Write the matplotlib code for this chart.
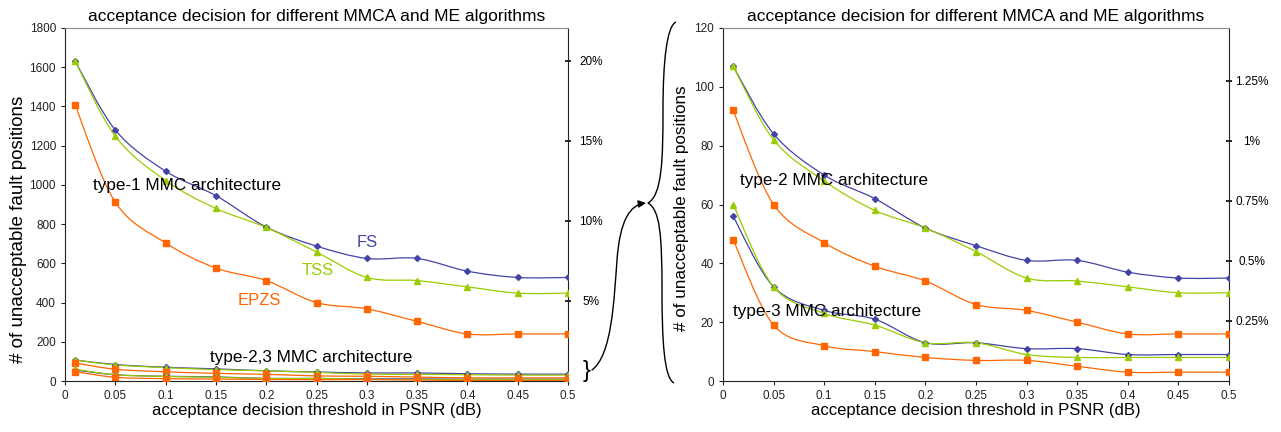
import numpy as np
import matplotlib
matplotlib.use("Agg")
import matplotlib.pyplot as plt
from matplotlib.path import Path
from matplotlib.patches import PathPatch, FancyArrowPatch

plt.rcParams['font.family'] = ['Liberation Sans', 'DejaVu Sans']

# thresholds (dB)
thresholds = [0.01, 0.05, 0.1, 0.15, 0.2, 0.25, 0.3, 0.35, 0.4, 0.45, 0.5]
x_ticks = [0, 0.05, 0.1, 0.15, 0.2, 0.25, 0.3, 0.35, 0.4, 0.45, 0.5]
x_tick_labels = ['0', '0.05', '0.1', '0.15', '0.2', '0.25', '0.3', '0.35', '0.4', '0.45', '0.5']

# type-1 MMC architecture
t1_fs = [1632, 1280, 1070, 945, 785, 688, 625, 625, 560, 528, 528]
t1_tss = [1632, 1248, 1022, 880, 783, 658, 528, 512, 480, 448, 448]
t1_epzs = [1408, 912, 704, 576, 512, 400, 368, 304, 240, 240, 240]

# type-2 MMC architecture
t2_fs = [107, 84, 70, 62, 52, 46, 41, 41, 37, 35, 35]
t2_tss = [107, 82, 68, 58, 52, 44, 35, 34, 32, 30, 30]
t2_epzs = [92, 60, 47, 39, 34, 26, 24, 20, 16, 16, 16]

# type-3 MMC architecture
t3_fs = [56, 32, 24, 21, 13, 13, 11, 11, 9, 9, 9]
t3_tss = [60, 32, 23, 19, 13, 13, 9, 8, 8, 8, 8]
t3_epzs = [48, 19, 12, 10, 8, 7, 7, 5, 3, 3, 3]

total_positions = 8160
left_pct_ticks = [5, 10, 15, 20]
right_pct_ticks = [0.25, 0.5, 0.75, 1.0, 1.25]
right_pct_labels = ['0.25%', '0.5%', '0.75%', '1%', '1.25%']

FS_C = '#4343a6'
TSS_C = '#99cc00'
EPZS_C = '#ff6600'
title = 'acceptance decision for different MMCA and ME algorithms'


def smooth_path(xs, ys):
    # excel style smoothed line through the points
    pts = np.column_stack([xs, ys]).astype(float)
    n = len(pts)
    verts = [pts[0]]
    codes = [Path.MOVETO]
    for i in range(n - 1):
        p0 = pts[i - 1] if i > 0 else pts[i]
        p1 = pts[i]
        p2 = pts[i + 1]
        p3 = pts[i + 2] if i + 2 < n else pts[i + 1]
        verts += [p1 + (p2 - p0) / 6, p2 - (p3 - p1) / 6, p2]
        codes += [Path.CURVE4] * 3
    return Path(verts, codes)


def draw_series(ax, ys, color, marker, ms):
    ax.add_patch(PathPatch(smooth_path(thresholds, ys), facecolor='none',
                           edgecolor=color, lw=0.9, zorder=2))
    ax.plot(thresholds, ys, linestyle='none', marker=marker, ms=ms,
            color=color, mec=color, zorder=3)


def style_axes(ax, ymax, ystep, pct_ticks, pct_labels, ylabel_size, ylabel_x, ylabel_y):
    ax.set_xlim(0, 0.5)
    ax.set_ylim(0, ymax)
    ax.set_xticks(x_ticks)
    ax.set_xticklabels(x_tick_labels)
    ax.set_yticks(np.arange(0, ymax + 1, ystep))
    ax.tick_params(labelsize=8.5, length=3, width=0.8, colors='#222222')
    ax.spines['top'].set_color('#8c8c8c')
    ax.spines['right'].set_visible(False)
    ax.spines['left'].set_color('#222222')
    ax.spines['bottom'].set_color('#222222')
    ax.set_title(title, fontsize=12.5, pad=5)
    ax.set_xlabel('acceptance decision threshold in PSNR (dB)', fontsize=12, labelpad=1)
    ax.set_ylabel('# of unacceptable fault positions', fontsize=ylabel_size)
    ax.yaxis.set_label_coords(ylabel_x, ylabel_y)
    sec = ax.secondary_yaxis('right', functions=(lambda v: v / total_positions * 100,
                                                 lambda p: p * total_positions / 100))
    sec.set_yticks(pct_ticks)
    sec.set_yticklabels(pct_labels)
    sec.spines['right'].set_color('#222222')
    sec.tick_params(direction='inout', length=5, width=1.2, labelsize=8.5, pad=14)
    for lab in sec.get_yticklabels():
        lab.set_ha('center')
    return sec


fig = plt.figure(figsize=(12.81, 4.32), dpi=100)
ax1 = fig.add_axes([65 / 1281, 51 / 432, 503 / 1281, 353 / 432])
ax2 = fig.add_axes([723 / 1281, 51 / 432, 506 / 1281, 353 / 432])

for ax, series in [(ax1, [t1_fs, t1_tss, t1_epzs, t2_fs, t2_tss, t2_epzs, t3_fs, t3_tss, t3_epzs]),
                   (ax2, [t2_fs, t2_tss, t2_epzs, t3_fs, t3_tss, t3_epzs])]:
    for k, ys in enumerate(series):
        kind = k % 3
        if kind == 0:
            draw_series(ax, ys, FS_C, 'D', 3)
        elif kind == 1:
            draw_series(ax, ys, TSS_C, '^', 4.5)
        else:
            draw_series(ax, ys, EPZS_C, 's', 4.5)

style_axes(ax1, 1800, 200, left_pct_ticks, [f'{p}%' for p in left_pct_ticks], 13.5, -0.076, 0.43)
style_axes(ax2, 120, 20, right_pct_ticks, right_pct_labels, 12.3, -0.068, 0.49)

# annotations on the left chart
ax1.text(0.028, 999, 'type-1 MMC architecture', fontsize=12.3, va='center')
ax1.text(0.300, 704, 'FS', color=FS_C, fontsize=12, va='center', ha='center')
ax1.text(0.2515, 566, 'TSS', color=TSS_C, fontsize=12, va='center', ha='center')
ax1.text(0.193, 413, 'EPZS', color=EPZS_C, fontsize=12, va='center', ha='center')
ax1.text(0.144, 122, 'type-2,3 MMC architecture', fontsize=12.3, va='center')
# annotations on the right chart
ax2.text(0.0168, 68, 'type-2 MMC architecture', fontsize=12.3, va='center')
ax2.text(0.0099, 23.5, 'type-3 MMC architecture', fontsize=12.3, va='center')


def fp(x, y):
    return (x / 1281, 1 - y / 432)


fig.text(*fp(583, 371), '}', fontsize=17, va='center', ha='left')

# big brace next to the right chart
brace = [(676, 22), (667, 26), (663, 60), (663, 110),
         (663, 160), (662, 195), (648, 203),
         (660, 210), (662, 235), (662, 290),
         (662, 340), (664, 378), (674, 383)]
brace_codes = [Path.MOVETO] + [Path.CURVE4] * 12
fig.add_artist(PathPatch(Path([fp(*p) for p in brace], brace_codes),
                         facecolor='none', edgecolor='black', lw=1.0,
                         transform=fig.transFigure))

# arrow from the small brace to the big one
arrow = [(592, 370), (612, 355), (614, 300), (617, 260),
         (620, 220), (630, 205), (646, 203)]
arrow_codes = [Path.MOVETO] + [Path.CURVE4] * 6
fig.add_artist(FancyArrowPatch(path=Path([fp(*p) for p in arrow], arrow_codes),
                               arrowstyle='-|>', mutation_scale=11, lw=1.0,
                               color='black', transform=fig.transFigure))

fig.savefig('out.png', dpi=100)
